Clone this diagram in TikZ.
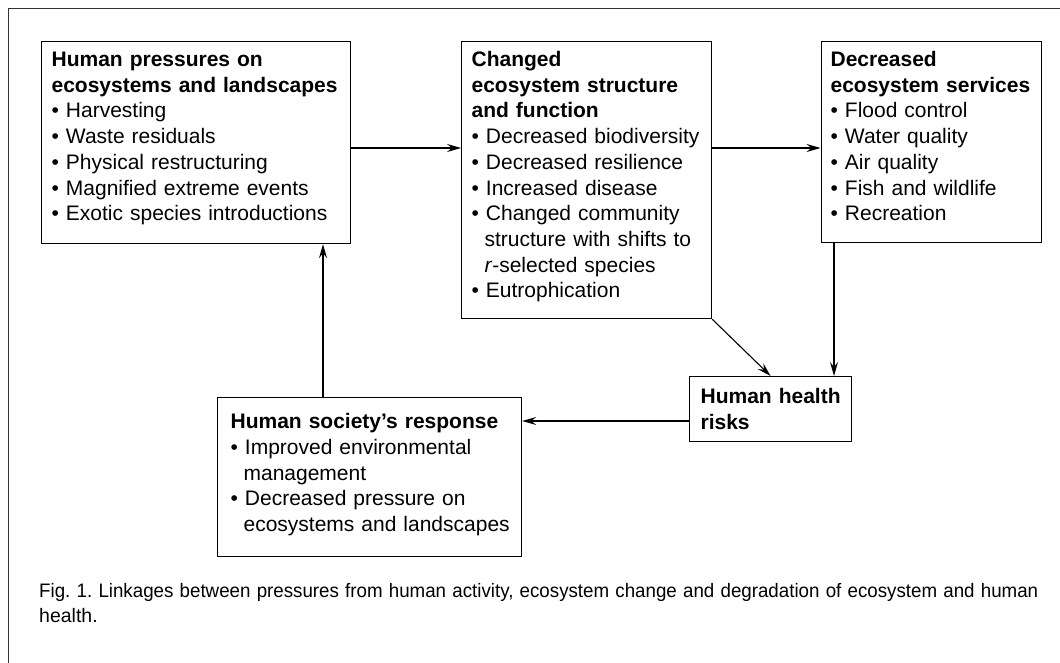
\documentclass[tikz,border=0pt]{standalone}
\usepackage{fontspec}
\usepackage{graphicx}
\setmainfont{Liberation Sans}
\usetikzlibrary{arrows.meta}

\newcommand{\itm}{\par\textbullet\ }
\newcommand{\cont}[1]{\\\hspace*{13pt}\mbox{#1}}

\tikzset{
    box/.style={draw, line width=1.2pt, anchor=north west, align=left,
        inner xsep=10pt, inner ysep=0pt, text height=25pt,
        font=\fontsize{21}{25.7}\selectfont},
    arr/.style={-{Stealth[length=14pt, width=8pt, inset=5pt]}, line width=1.1pt},
}

\begin{document}
\begin{tikzpicture}[x=1pt, y=-1pt]
    \useasboundingbox (0,0) rectangle (1060,663);
    \draw[line width=1pt, black!80] (8,663) -- (8,8.5) -- (1060,8.5);

    % boxes
    \node[box, text width=289pt, text depth=177pt] (press) at (41,41)
        {\textbf{Human pressures on\\ \mbox{ecosystems and landscapes}}
        \itm Harvesting
        \itm Waste residuals
        \itm Physical restructuring
        \itm Magnified extreme events
        \itm \mbox{Exotic species introductions}};
    \node[box, text width=230pt, text depth=252pt] (change) at (461,41)
        {\textbf{Changed\\ \mbox{ecosystem structure}\\ and function}
        \itm \mbox{Decreased biodiversity}
        \itm Decreased resilience
        \itm Increased disease
        \itm Changed community\cont{structure with shifts to}\cont{\textit{r}-selected species}
        \itm Eutrophication};
    \node[box, text width=201pt, text depth=176pt, inner xsep=9.5pt] (serv) at (820.5,41)
        {\textbf{Decreased\\ \mbox{ecosystem services}}
        \itm Flood control
        \itm Water quality
        \itm Air quality
        \itm Fish and wildlife
        \itm Recreation};
    \node[box, text width=140pt, inner xsep=11pt, text height=27pt, text depth=38pt] (risk) at (689,376)
        {\textbf{\mbox{Human health}\\ risks}};
    \node[box, text width=278pt, inner xsep=13pt, text height=31pt, text depth=128pt] (resp) at (217,397)
        {\textbf{\mbox{Human society's response}}
        \itm \mbox{Improved environmental}\cont{management}
        \itm \mbox{Decreased pressure on}\cont{ecosystems and landscapes}};

    % connectors
    \coordinate (row) at (0,148);
    \coordinate (col) at (834,0);
    \coordinate (back) at (0,421);
    \coordinate (up) at (323,0);
    \draw[arr] (press.east |- row) -- (change.west |- row);
    \draw[arr] (change.east |- row) -- (serv.west |- row);
    \draw[arr] (serv.south -| col) -- (risk.north -| col);
    \draw[arr] (change.south east) -- (risk.north);
    \draw[arr] (risk.west |- back) -- (resp.east |- back);
    \draw[arr] (resp.north -| up) -- (press.south -| up);

    \node[anchor=north west, inner sep=0pt, align=left, text width=1015pt,
        text height=14pt, font=\fontsize{19.5}{25.7}\selectfont\frenchspacing] (cap) at (39,583)
        {\resizebox{999pt}{\height}{Fig. 1. Linkages between pressures from human activity, ecosystem change and degradation of ecosystem and human}\\ health.};
\end{tikzpicture}
\end{document}
